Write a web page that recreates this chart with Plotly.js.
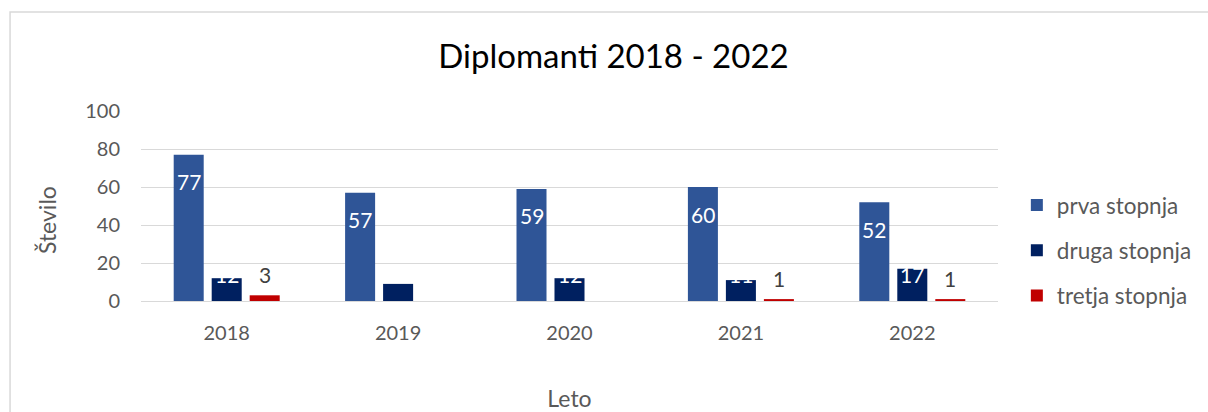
<!DOCTYPE html>
<html><head><meta charset="utf-8">
<script src="https://cdn.plot.ly/plotly-3.0.1.min.js"></script>
<style>html,body{margin:0;padding:0;background:#fff;}#chart{width:1208px;height:412px;}</style>
</head><body><div id="chart"></div>
<script>
const years = ['2018','2019','2020','2021','2022'];
const prva = [77, 57, 59, 60, 52];
const druga = [12, 9, 12, 11, 17];
const tretja = [3, 0, 0, 1, 1];
const seriesNames = ['prva stopnja','druga stopnja','tretja stopnja'];
const colors = ['#2F5597','#002060','#C00000'];

const FONT = 'Lato, "Open Sans", sans-serif';
const series = [prva, druga, tretja];
const traces = series.map((vals, i) => ({
  type: 'bar', x: years, y: vals, name: seriesNames[i],
  marker: {color: colors[i]}, legendgroup: 'g' + i,
  hoverinfo: 'x+y+name'
}));

// data labels via annotations (white labels sit at the inside end; white on white is hidden)
const annotations = [];
const offs = [-1, 0, 1];
const slot = 0.2217;
series.forEach((vals, i) => {
  vals.forEach((v, j) => {
    if (v === 0) return;
    let a = {
      x: j + offs[i] * slot, xref: 'x', yref: 'y',
      text: String(v), showarrow: false,
      font: {family: FONT, size: 21, color: '#ffffff'}
    };
    if (i === 0) { a.y = v; a.yanchor = 'middle'; a.yshift = -27; }
    else if (i === 1) { a.y = 0; a.yanchor = 'middle'; a.yshift = 26.5; }
    else { a.y = v; a.yanchor = 'middle'; a.yshift = 21; a.font.color = '#404040'; }
    annotations.push(a);
  });
});

annotations.push({xref:'paper', yref:'paper', x:-0.1097, y:0.426, text:'Število', textangle:-90,
  showarrow:false, font:{family:FONT, size:23, color:'#595959'}, xanchor:'center', yanchor:'middle'});

const layout = {
  width: 1208, height: 412,
  margin: {l: 141, r: 210, t: 111, b: 111, autoexpand: false},
  paper_bgcolor: '#ffffff', plot_bgcolor: '#ffffff',
  title: {text: 'Diplomanti 2018 - 2022', font: {family: FONT, size: 33, color: '#000000'},
          x: 0.5513, xanchor: 'center', xref: 'paper', y: 0.862, yanchor: 'middle'},
  barmode: 'group', bargap: 0.335, bargroupgap: 0.21,
  xaxis: {
    type: 'category', tickfont: {family: FONT, size: 20, color: '#595959'},
    showline: true, linecolor: '#d9d9d9', linewidth: 1, ticks: '', showgrid: false,
    ticklabelstandoff: 14,
    title: {text: 'Leto', font: {family: FONT, size: 23, color: '#595959'}, standoff: 48}
  },
  yaxis: {
    range: [0, 100], dtick: 20, tickfont: {family: FONT, size: 20, color: '#595959'},
    gridcolor: '#d9d9d9', gridwidth: 1, zeroline: false, ticks: '', ticklabelstandoff: 20,
    showline: false
  },
  legend: {
    x: 1.022, xanchor: 'left', y: 0.266, yanchor: 'middle',
    font: {family: FONT, size: 22.5, color: '#595959'}, tracegroupgap: 13,
    bgcolor: 'rgba(0,0,0,0)', itemwidth: 30
  },
  annotations: annotations,
  shapes: [{type: 'rect', xref: 'paper', yref: 'paper', x0: -0.1528, x1: 1.4, y0: -1.2, y1: 1.521,
    line: {color: '#d9d9d9', width: 1.5}, fillcolor: 'rgba(0,0,0,0)', layer: 'below'}],
  showlegend: true
};
Plotly.newPlot('chart', traces, layout, {displayModeBar: false, staticPlot: true});
</script></body></html>
